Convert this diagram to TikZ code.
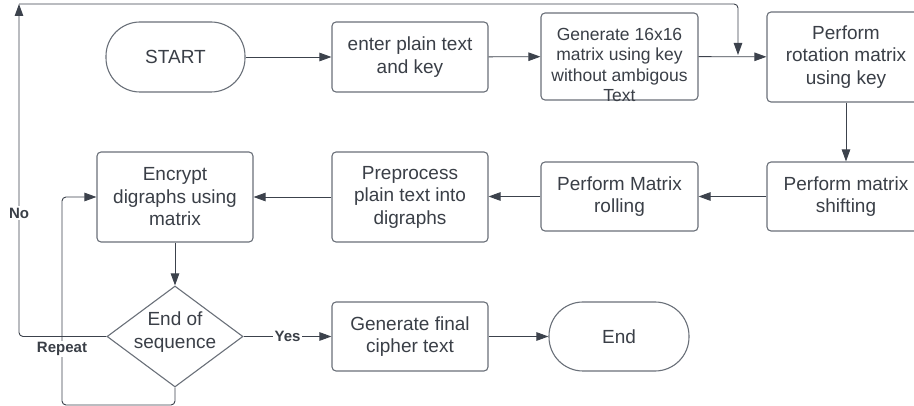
\documentclass[tikz,border=0pt]{standalone}
\usepackage{fontspec}
\setmainfont{Liberation Sans}
\usetikzlibrary{shapes.geometric,arrows.meta}

\definecolor{ink}{HTML}{3A3F47}
\definecolor{edge}{HTML}{6A7079}
\definecolor{wire}{HTML}{3C424C}

\tikzset{
  every node/.style={text=ink},
  procbox/.style={draw=edge, line width=1.1pt, fill=white, rounded corners=4pt,
    inner sep=0pt, align=center, font=\fontsize{19}{22.5}\selectfont},
  termbox/.style={procbox, rounded corners=34pt},
  decbox/.style={draw=edge, line width=1.1pt, fill=white, diamond, inner sep=0pt,
    minimum width=136pt, minimum height=101pt},
  flow/.style={draw=wire, line width=0.9pt, rounded corners=4pt,
    -{Triangle[length=12pt,width=8.5pt]}},
  tag/.style={fill=white, inner sep=1.5pt, font=\fontsize{15}{17}\selectfont\bfseries},
}

\begin{document}
\begin{tikzpicture}[x=1pt, y=-1pt]
  \useasboundingbox (0,0) rectangle (914,406);
  \clip (0,0) rectangle (914,406);

  % top row
  \node[termbox, minimum width=139pt, minimum height=70pt] (start) at (175.5,57) {START};
  \node[procbox, minimum width=156pt, minimum height=70pt] (enter) at (410,57) {enter plain text\\and key};
  \node[procbox, minimum width=157pt, minimum height=87pt] (gen) at (619.5,56.5) {};
  \node[font=\fontsize{17.5}{20.5}\selectfont, align=center, inner sep=0pt] (gentext) at (619.5,65)
    {Generate 16x16\\matrix using key\\without ambigous\\Text};
  \node[procbox, minimum width=158pt, minimum height=90pt] (rot) at (846,57) {Perform\\rotation matrix\\using key};

  % middle row
  \node[procbox, minimum width=158pt, minimum height=69pt] (shift) at (846,196.5) {Perform matrix\\shifting};
  \node[procbox, minimum width=157pt, minimum height=69pt] (roll) at (619.5,196.5) {Perform Matrix\\rolling};
  \node[procbox, minimum width=156pt, minimum height=90pt] (prep) at (410,197) {Preprocess\\plain text into\\digraphs};
  \node[procbox, minimum width=156pt, minimum height=90pt] (enc) at (175,197) {Encrypt\\digraphs using\\matrix};

  % bottom row
  \node[decbox] (dec) at (175,336.5) {};
  \node[align=center, inner sep=0pt, font=\fontsize{19}{22.5}\selectfont] (dectext) at (175,332) {End of\\sequence};
  \node[procbox, minimum width=156pt, minimum height=69pt] (final) at (410,336.5) {Generate final\\cipher text};
  \node[termbox, minimum width=140pt, minimum height=69pt] (end) at (619,336.5) {End};

  % main flow
  \draw[flow] (start) -- (enter);
  \draw[flow] (enter) -- (gen);
  \draw[flow] (gen) -- (rot);
  \draw[flow] (rot) -- (shift);
  \draw[flow] (shift) -- (roll);
  \draw[flow] (roll.west) -- (prep.east |- roll.west);
  \draw[flow] (prep) -- (enc);
  \draw[flow] (enc) -- (dec);
  \draw[flow] (dec) -- node[tag] {Yes} (final);
  \draw[flow] (final) -- (end);

  % "No" branch back to the rotation step
  \coordinate (ntop) at (19,4);
  \coordinate (nend) at (738,55);
  \draw[flow] (dec.west) -| (ntop);
  \draw[flow] (ntop) -| (nend);
  \node[tag] (nolabel) at (19,213) {No};

  % "Repeat" loop back to encryption
  \coordinate (rb) at (175,405);
  \coordinate (rl) at (62,405);
  \draw[flow] (dec.south) -- (rb) -- (rl) |- (enc.west);
  \node[tag] (replabel) at (62,349) {Repeat};
\end{tikzpicture}
\end{document}
